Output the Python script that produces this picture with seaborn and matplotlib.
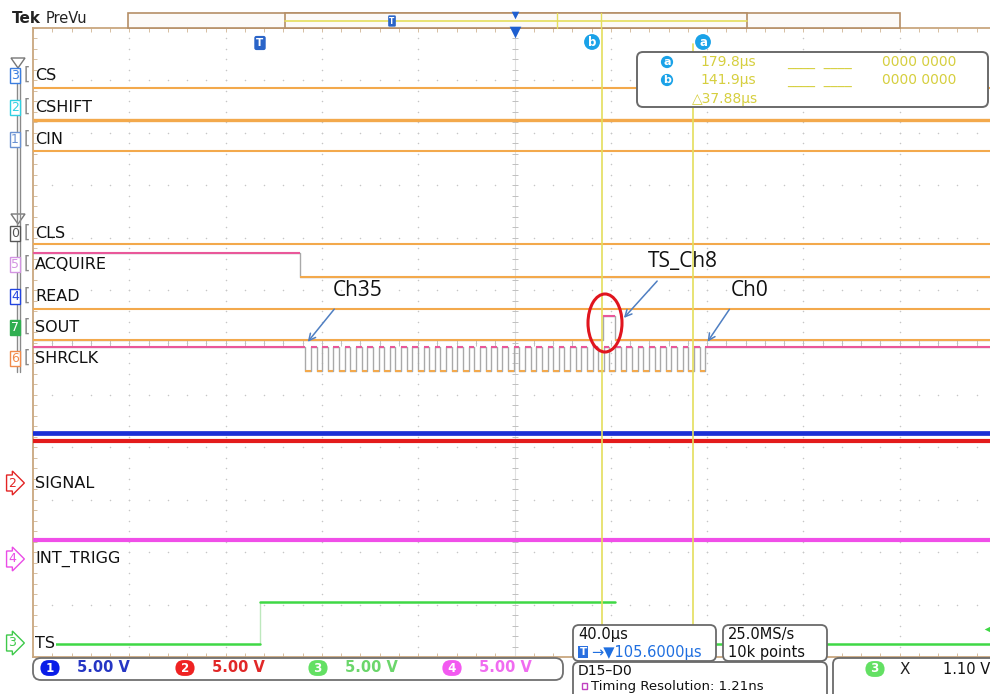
import numpy as np
import pandas as pd
import matplotlib
matplotlib.use("Agg")
import matplotlib.pyplot as plt
import seaborn as sns
from matplotlib.patches import FancyBboxPatch, Ellipse, Rectangle, Polygon

sns.set_theme(style="white")
plt.rcParams["font.family"] = ["DejaVu Sans"]

# ------------------------------------------------------------------ data
time_per_div = 40.0          # µs / div
screen_center = 105.6        # µs at the centre of the screen
cursor_a = 179.8             # µs
cursor_b = 141.9             # µs
cursor_delta = 37.88         # µs

dig_names = ["CS", "CSHIFT", "CIN", "CLS", "ACQUIRE", "READ", "SOUT", "SHRCLK"]
dig_numbers = ["3", "2", "1", "0", "5", "4", "7", "6"]
dig_low = [1.15, 1.76, 2.35, 4.13, 4.75, 5.36, 5.95, 6.55]   # div from top
dig_swing = 0.46                                            # div
dig_start_state = [0, 0, 0, 0, 1, 0, 0, 1]
acquire_edges = [16.6]
sout_edges = [142.4, 147.4]
shrclk_first_edge = 18.7
shrclk_period = 4.68
shrclk_pulses = 36

analog_names = ["SIGNAL", "INT_TRIGG", "TS"]
ch1_level = 7.73
ch2_level = 7.885
ch4_level = 9.76
ts_times = [-86.4, 0.0, 147.4, 305.6]
ts_levels = [11.75, 10.95, 11.75]

scale_labels = ["5.00 V", "5.00 V", "5.00 V", "5.00 V"]
readout_times = ["179.8µs", "141.9µs"]
horiz_scale = "40.0µs"
trig_pos_text = "105.6000µs"
sample_rate = "25.0MS/s"
record_len = "10k points"
timing_res = "Timing Resolution: 1.21ns"
trig_level = "1.10 V"

# ------------------------------------------------------------------ figure
W, H = 990, 694
fig = plt.figure(figsize=(W / 100, H / 100), dpi=100)
fig.patch.set_facecolor("white")

x_min = screen_center - 5 * time_per_div
x_max = screen_center + 5 * time_per_div
gl, gr, gt, gb = 33, 996, 28, 657          # graticule in pixels
ax = fig.add_axes([gl / W, 1 - gb / H, (gr - gl) / W, (gb - gt) / H])
ax.set_xlim(x_min, x_max)
ax.set_ylim(12, 0)
ax.set_facecolor("white")

TAN = "#c9a77f"
for s in ax.spines.values():
    s.set_color(TAN)
    s.set_linewidth(1.3)
ax.set_xticks(np.arange(x_min, x_max + 0.1, time_per_div))
ax.set_xticks(np.arange(x_min, x_max + 0.1, time_per_div / 5), minor=True)
ax.set_yticks(np.arange(0, 12.01, 1))
ax.set_yticks(np.arange(0, 12.01, 0.2), minor=True)
ax.tick_params(which="both", direction="in", top=True, right=True, bottom=True, left=True,
               labelbottom=False, labelleft=False, color="#d6bfa2", length=3, width=0.7)

# graticule dots
GR = "#c6c6c6"
xs_major = np.arange(x_min + time_per_div, x_max - 1, time_per_div)
ys_minor = np.arange(0.2, 12, 0.2)
gx, gy = np.meshgrid(xs_major, ys_minor)
ax.scatter(gx.ravel(), gy.ravel(), s=1.2, c=GR, lw=0, zorder=1)
ys_major = np.arange(1, 12, 1.0)
xs_minor = np.arange(x_min + 8, x_max - 1, 8)
gx, gy = np.meshgrid(xs_minor, ys_major)
ax.scatter(gx.ravel(), gy.ravel(), s=1.2, c=GR, lw=0, zorder=1)
# centre crosshair with ticks
ax.axvline(screen_center, color="#e0e0e0", lw=0.8, zorder=1)
ax.scatter(np.full_like(ys_minor, screen_center), ys_minor, marker="_", s=14, c="#c0c0c0", lw=0.7, zorder=1)
ax.scatter(xs_minor, np.full_like(xs_minor, 6.0), marker="|", s=14, c="#c0c0c0", lw=0.7, zorder=1)

# ------------------------------------------------------------------ digital traces
ORANGE = "#f3a94c"
PINK = "#e9589a"
EDGE = "#a9a9a9"

def edges_for(i):
    name = dig_names[i]
    if name == "ACQUIRE":
        return list(acquire_edges)
    if name == "SOUT":
        return list(sout_edges)
    if name == "SHRCLK":
        return list(shrclk_first_edge + np.arange(2 * shrclk_pulses) * shrclk_period / 2)
    return []

for i, name in enumerate(dig_names):
    e = edges_for(i)
    times = [x_min] + e + [x_max]
    states = [(dig_start_state[i] + k) % 2 for k in range(len(e) + 1)]
    levels = [dig_low[i] - dig_swing * s for s in states]
    df = pd.DataFrame({"t": times, "y": levels + [levels[-1]]})
    if e:
        sns.lineplot(data=df, x="t", y="y", drawstyle="steps-post", estimator=None,
                     sort=False, color=EDGE, lw=1.0, ax=ax, zorder=3)
    lw = 2.4 if name == "CSHIFT" else 1.5
    for k in range(len(states)):
        ax.hlines(levels[k], times[k], times[k + 1],
                  color=PINK if states[k] else ORANGE, lw=lw, zorder=4)

# ------------------------------------------------------------------ analog traces
an = pd.DataFrame({
    "t": [x_min, x_max, x_min, x_max, x_min, x_max,
          ts_times[0], ts_times[1], ts_times[1], ts_times[2], ts_times[2], ts_times[3]],
    "y": [ch1_level, ch1_level, ch2_level, ch2_level, ch4_level, ch4_level,
          ts_levels[0], ts_levels[0], ts_levels[1], ts_levels[1], ts_levels[2], ts_levels[2]],
    "trace": ["ch1"] * 2 + ["ch2"] * 2 + ["ch4"] * 2 + ["ch3"] * 6,
    "seg": [0, 0, 1, 1, 2, 2, 3, 3, 4, 4, 5, 5],
})
pal = {"ch1": "#1a2fd6", "ch2": "#e31b1b", "ch4": "#f04ee8", "ch3": "#3fd845"}
widths = {"ch1": 3.4, "ch2": 3.0, "ch4": 3.0, "ch3": 1.8}
for tr, sub in an.groupby("trace", sort=False):
    sns.lineplot(data=sub, x="t", y="y", units="seg", estimator=None, sort=False,
                 color=pal[tr], lw=widths[tr], ax=ax, zorder=3)
ax.vlines(ts_times[1], ts_levels[1], ts_levels[0], color="#bde8bd", lw=1.0, zorder=2)

# cursors
YEL = "#e4de5c"
ax.axvline(cursor_b, color=YEL, lw=1.2, zorder=5)
ax.axvline(cursor_a, color=YEL, lw=1.2, ymin=0, ymax=0.975, zorder=5)
ax.set_xlabel("")
ax.set_ylabel("")

# ------------------------------------------------------------------ overlay (pixel coordinates)
ov = fig.add_axes([0, 0, 1, 1], zorder=10)
ov.set_xlim(0, W)
ov.set_ylim(H, 0)
ov.axis("off")
ov.patch.set_alpha(0)

ov.text(12, 18, "Tek", fontsize=11, fontweight="bold", va="center", ha="left", color="#222")
ov.text(46, 18, "PreVu", fontsize=10.5, va="center", ha="left", color="#222")

# record preview bar
ov.add_patch(Rectangle((128, 13), 772, 15, fc="#fcfaf8", ec="#b58e66", lw=1.2))
ov.add_patch(Rectangle((285, 13), 462, 15, fc="#fcfaf8", ec="#b58e66", lw=1.2))
ov.plot([285, 747], [20.5, 20.5], color=YEL, lw=1.2)
ov.plot([557, 557], [13, 28], color=YEL, lw=1)
ov.plot([601, 601], [13, 28], color=YEL, lw=1)
ov.text(392, 21, "T", fontsize=5.5, color="white", fontweight="bold", ha="center", va="center",
        bbox=dict(boxstyle="round,pad=0.15", fc="#2a64c8", ec="none"))
ov.scatter([515], [15], marker="v", s=30, c="#1f5fd0", lw=0)
ov.scatter([515], [32], marker="v", s=70, c="#1f5fd0", lw=0)

# trigger & cursor markers
ov.text(260, 43, "T", fontsize=7.5, color="white", fontweight="bold", ha="center", va="center",
        bbox=dict(boxstyle="round,pad=0.2", fc="#2a64c8", ec="none"))
CY = "#1aa2e8"
for lab, px in (("b", 592), ("a", 703)):
    ov.text(px, 42, lab, fontsize=8.5, color="white", fontweight="bold", ha="center", va="center",
            bbox=dict(boxstyle="circle,pad=0.12", fc=CY, ec="none"))

# readout box
ov.add_patch(FancyBboxPatch((637, 52), 351, 55, boxstyle="round,pad=0,rounding_size=6",
                            fc="white", ec="#6a6a6a", lw=1.4))
RY = "#d6cf3f"
for j, (lab, tval) in enumerate(zip(["a", "b"], readout_times)):
    yy = 62 + 18 * j
    ov.text(667, yy, lab, fontsize=8, color="white", fontweight="bold", ha="center", va="center",
            bbox=dict(boxstyle="circle,pad=0.1", fc=CY, ec="none"))
    ov.text(700, yy, tval, fontsize=10, color=RY, ha="left", va="center")
    ov.text(787, yy, "____  ____", fontsize=10, color=RY, ha="left", va="center")
    ov.text(882, yy, "0000 0000", fontsize=10, color=RY, ha="left", va="center")
ov.text(692, 99, "△%.2fµs" % cursor_delta, fontsize=10, color=RY, ha="left", va="center")

# left group slider
ov.plot([17, 17], [70, 372], color="#8a8a8a", lw=1)
ov.plot([20, 20], [70, 372], color="#8a8a8a", lw=1)
for ty in (58, 214):
    ov.add_patch(Polygon([[11, ty], [25, ty], [18, ty + 10]], closed=True, fc="white", ec="#777", lw=1))

dig_icon_colors = ["#3a7de0", "#2fd0e2", "#6a92d2", "#555555", "#d394e2", "#2244e0", "#2fae50", "#f08a4a"]
dig_label_y = [75, 107, 139, 233, 264, 296, 327, 358]
for name, num, col, yy in zip(dig_names, dig_numbers, dig_icon_colors, dig_label_y):
    filled = num == "7"
    ov.text(15, yy, num, fontsize=9, color="white" if filled else col, ha="center", va="center",
            bbox=dict(boxstyle="square,pad=0.08", fc=col if filled else "white", ec=col, lw=1))
    ov.text(27, yy, "[", fontsize=12, color="#888", ha="center", va="center")
    ov.text(35, yy, name, fontsize=11.5, color="#111", ha="left", va="center")

an_icon = [("2", "#e32424", 483), ("4", "#ea4ce6", 559), ("3", "#3ec94a", 643)]
for (num, col, yy), name in zip(an_icon, analog_names):
    ov.text(12, yy, num, fontsize=9, color=col, ha="center", va="center",
            bbox=dict(boxstyle="rarrow,pad=0.12", fc="white", ec=col, lw=1))
    ov.text(35, yy, name, fontsize=11.5, color="#111", ha="left", va="center",
            bbox=dict(boxstyle="square,pad=0.05", fc="white", ec="none") if name == "TS" else None)

# annotations
ov.text(358, 290, "Ch35", fontsize=15, family="Open Sans", ha="center", va="center", color="#111")
ov.text(683, 261, "TS_Ch8", fontsize=15, family="Open Sans", ha="center", va="center", color="#111")
ov.text(750, 290, "Ch0", fontsize=15, family="Open Sans", ha="center", va="center", color="#111")
AR = "#4f7fc2"
for (x0, y0, x1, y1) in ((336, 307, 306, 344), (659, 279, 622, 320), (731, 307, 706, 344)):
    ov.annotate("", xy=(x1, y1), xytext=(x0, y0),
                arrowprops=dict(arrowstyle="->", color=AR, lw=1.1, mutation_scale=12))
ov.add_patch(Ellipse((605, 323), 34, 58, fc="none", ec="#e0151e", lw=2.2))

# bottom channel bar
ov.add_patch(FancyBboxPatch((33, 658), 530, 22, boxstyle="round,pad=0,rounding_size=8",
                            fc="white", ec="#707070", lw=1.3))
chan_cols = [("1", "#0a1de8", "#2636c4", 50), ("2", "#ef2222", "#e12828", 185),
             ("3", "#63e063", "#6bd66b", 318), ("4", "#f25af0", "#f06cf0", 452)]
for (num, fc, tc, px), lab in zip(chan_cols, scale_labels):
    ov.text(px, 668, " " + num + " ", fontsize=8.5, color="white", fontweight="bold", ha="center", va="center",
            bbox=dict(boxstyle="round,pad=0.12,rounding_size=0.7", fc=fc, ec="none"))
    ov.text(px + 27, 668, lab, fontsize=10.5, color=tc, fontweight="semibold", ha="left", va="center")

# bottom-right boxes
def box(x, y, w, h):
    ov.add_patch(FancyBboxPatch((x, y), w, h, boxstyle="round,pad=0,rounding_size=6",
                                fc="white", ec="#6a6a6a", lw=1.3))

box(573, 625, 143, 36)
box(723, 625, 104, 36)
box(573, 662, 254, 45)
box(833, 658, 170, 45)
ov.text(578, 635, horiz_scale, fontsize=10.5, color="#111", ha="left", va="center")
ov.text(583, 652, "T", fontsize=7.5, color="white", fontweight="bold", ha="center", va="center",
        bbox=dict(boxstyle="square,pad=0.12", fc="#2a70e0", ec="none"))
ov.text(591, 652, "→▼" + trig_pos_text, fontsize=10.5, color="#1f6fe0", ha="left", va="center")
ov.text(728, 635, sample_rate, fontsize=10.5, color="#111", ha="left", va="center")
ov.text(728, 652, record_len, fontsize=10.5, color="#111", ha="left", va="center")
ov.text(578, 671, "D15–D0", fontsize=10, color="#111", ha="left", va="center")
ov.add_patch(Rectangle((582, 683), 5, 6, fc="none", ec="#c040c0", lw=1))
ov.text(591, 686.5, timing_res, fontsize=9.5, color="#111", ha="left", va="center")
ov.text(875, 669, " 3 ", fontsize=8.5, color="white", fontweight="bold", ha="center", va="center",
        bbox=dict(boxstyle="round,pad=0.12,rounding_size=0.7", fc="#63e063", ec="none"))
ov.text(905, 669, "X", fontsize=11, color="#222", ha="center", va="center")
ov.text(943, 669, trig_level, fontsize=10.5, color="#111", ha="left", va="center")
ov.scatter([988], [629], marker="<", s=30, c="#3fd845", lw=0)

fig.savefig("out.png", dpi=100, facecolor="white")
